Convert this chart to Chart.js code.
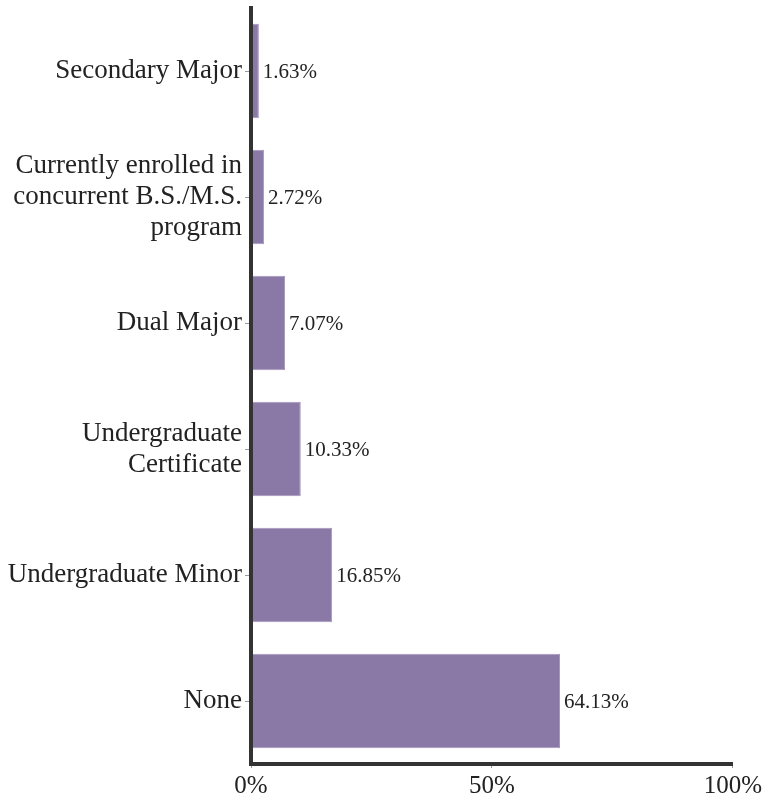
<!DOCTYPE html>
<html>
<head>
<meta charset="utf-8">
<script src="https://cdn.jsdelivr.net/npm/chart.js@4"></script>
<style>
  html, body { margin: 0; padding: 0; background: #fff; }
  canvas { display: block; }
</style>
</head>
<body>
<canvas id="chart" width="765" height="798"></canvas>
<script>
const categories = [
  'Secondary Major',
  ['Currently enrolled in', 'concurrent B.S./M.S.', 'program'],
  'Dual Major',
  ['Undergraduate', 'Certificate'],
  'Undergraduate Minor',
  'None'
];
const percents = [1.63, 2.72, 7.07, 10.33, 16.85, 64.13];
const xTicks = [0, 50, 100];

const FONT = '"Liberation Serif", "Times New Roman", serif';

// write the value right of each bar
const valueLabels = {
  id: 'valueLabels',
  afterDatasetsDraw(chart) {
    const ctx = chart.ctx;
    const meta = chart.getDatasetMeta(0);
    ctx.save();
    ctx.font = '21px ' + FONT;
    ctx.fillStyle = '#222';
    ctx.textAlign = 'left';
    ctx.textBaseline = 'middle';
    meta.data.forEach((bar, i) => {
      ctx.fillText(percents[i].toFixed(2) + '%', bar.x + 4, bar.y + 1);
    });
    ctx.restore();
  }
};

const ctx = document.getElementById('chart').getContext('2d');
const chart = new Chart(ctx, {
  type: 'bar',
  data: {
    labels: categories,
    datasets: [{
      data: percents,
      backgroundColor: '#8a79a6',
      borderColor: '#a597bb',
      borderWidth: 1,
      barPercentage: 0.75,
      categoryPercentage: 1
    }]
  },
  options: {
    indexAxis: 'y',
    responsive: false,
    animation: false,
    layout: { padding: { top: 8, right: 32, left: 0, bottom: 0 } },
    plugins: {
      legend: { display: false },
      tooltip: { enabled: false }
    },
    scales: {
      x: {
        min: 0,
        max: 100,
        afterBuildTicks(scale) {
          scale.ticks = xTicks.map(v => ({ value: v }));
        },
        afterFit(scale) { scale.height = 34; },
        border: { display: true, color: '#333', width: 4, z: 1 },
        grid: { drawOnChartArea: false, drawTicks: true, tickLength: 4, tickColor: '#999', tickWidth: 1 },
        ticks: {
          padding: 3,
          color: '#222',
          font: { family: FONT, size: 25 },
          callback: v => v + '%'
        }
      },
      y: {
        afterFit(scale) {
          scale.width = 251;
          scale.paddingTop = 0;
          scale.paddingBottom = 0;
        },
        border: { display: true, color: '#333', width: 4, z: 1 },
        grid: { offset: false, drawOnChartArea: false, drawTicks: true, tickLength: 6, tickColor: '#999', tickWidth: 1 },
        ticks: {
          padding: 3,
          color: '#222',
          font: { family: FONT, size: 27, lineHeight: 1.15 }
        }
      }
    }
  },
  plugins: [valueLabels]
});
</script>
</body>
</html>
